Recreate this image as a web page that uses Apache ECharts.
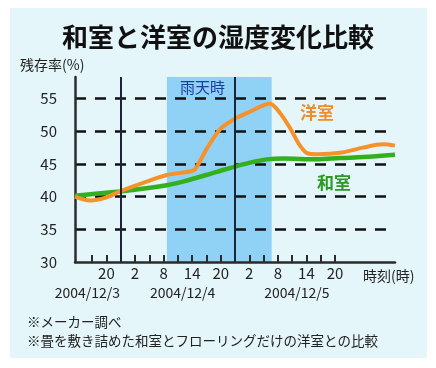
<!DOCTYPE html>
<html><head><meta charset="utf-8">
<script src="https://cdn.jsdelivr.net/npm/echarts@6/dist/echarts.min.js"></script>
<style>html,body{margin:0;padding:0;background:#fff}#c{width:436px;height:368px}</style>
</head><body><div id="c"></div>
<script>
const title = '和室と洋室の湿度変化比較';
const yAxisTitle = '残存率(%)';
const xAxisTitle = '時刻(時)';
const seriesNames = ['洋室', '和室'];
const xTickHours = [17, 20, 23, 26, 29, 32, 35, 38, 41, 44, 47, 50, 53, 56, 59, 62, 65, 68];
const xLabelHours = [20, 26, 32, 38, 44, 50, 56, 62, 68];
const dateLabelHours = [16, 36, 60];
const dateLabels = ['2004/12/3', '2004/12/4', '2004/12/5'];
const dayBoundaryHours = [23, 47];
const rainPeriod = [32.7, 54.7];
const rainLabel = '雨天時';
const notes = ['※メーカー調べ', '※畳を敷き詰めた和室とフローリングだけの洋室との比較'];

const youshitsuHours = [13.4, 16.55, 19.7, 22.85, 27.7, 32.65, 38.25, 39.2, 41.05, 43.85, 47.0, 50.15, 54.35, 56.45, 58.55, 60.65, 62.3, 64.2, 69.05, 73.9, 78.1, 80.6];
const youshitsuValues = [40.0, 39.4, 39.8, 40.8, 42.1, 43.3, 44.0, 44.85, 47.3, 50.3, 51.9, 53.0, 54.2, 52.8, 50.5, 47.8, 46.6, 46.5, 46.7, 47.5, 48.0, 47.8];
const washitsuHours = [13.4, 22.85, 29.15, 32.65, 36.1, 43.2, 47.0, 50.15, 53.65, 57.1, 64.2, 69.05, 73.9, 80.6];
const washitsuValues = [40.15, 40.8, 41.35, 41.75, 42.3, 43.8, 44.6, 45.2, 45.7, 45.85, 45.7, 45.9, 46.05, 46.4];

const FONT = '"Noto Sans CJK JP", "Noto Sans", sans-serif';
const zip = (xs, ys) => xs.map((x, i) => [x, ys[i]]);

const chart = echarts.init(document.getElementById('c'), null, {renderer: 'canvas'});
chart.setOption({
  animation: false,
  backgroundColor: '#ffffff',
  textStyle: {fontFamily: FONT},
  grid: {left: 75, right: 41, top: 77, bottom: 106},
  xAxis: [{
    type: 'value', min: 13.4, max: 80.6, z: 1.5,
    axisLine: {show: true, lineStyle: {color: '#2b2b2b', width: 2.5}},
    axisTick: {show: true, inside: true, length: 7, customValues: xTickHours, lineStyle: {color: '#2b2b2b', width: 2}},
    axisLabel: {customValues: xLabelHours, formatter: v => String(v % 24), fontSize: 15, color: '#222', margin: 4, fontFamily: FONT},
    splitLine: {show: false}
  }, {
    type: 'value', min: 13.4, max: 80.6, position: 'bottom',
    axisLine: {show: false}, axisTick: {show: false}, splitLine: {show: false},
    axisLabel: {customValues: dateLabelHours, formatter: v => dateLabels[dateLabelHours.indexOf(v)] || '', fontSize: 14, color: '#222', margin: 24, fontFamily: FONT}
  }],
  yAxis: {
    type: 'value', min: 30, max: 58.3, interval: 5, z: 1.5,
    axisLine: {show: true, lineStyle: {color: '#2b2b2b', width: 2.5}},
    axisTick: {show: false},
    axisLabel: {showMaxLabel: false, fontSize: 15, color: '#222', margin: 18, fontFamily: FONT},
    splitLine: {show: true, showMinLine: false, showMaxLine: false, lineStyle: {color: '#111', width: 2.5, type: [11, 9]}}
  },
  graphic: [
    {type: 'rect', z: -10, shape: {x: 10, y: 8, width: 417, height: 350}, style: {fill: '#e4f6fa'}},
    {type: 'text', left: 'center', top: 24, style: {text: title, font: 'bold 26px ' + FONT, fill: '#111'}},
    {type: 'text', left: 20, top: 58, style: {text: yAxisTitle, font: '14px ' + FONT, fill: '#222'}},
    {type: 'text', left: 363, top: 269, style: {text: xAxisTitle, font: '14px ' + FONT, fill: '#222'}},
    {type: 'text', left: 27, top: 315, style: {text: notes[0], font: '13.5px ' + FONT, fill: '#222'}},
    {type: 'text', left: 27, top: 334, style: {text: notes[1], font: '13.5px ' + FONT, fill: '#222'}},
    {type: 'text', left: 300, top: 104, style: {text: seriesNames[0], font: 'bold 17px ' + FONT, fill: '#f28c28'}},
    {type: 'text', left: 317, top: 174, style: {text: seriesNames[1], font: 'bold 17px ' + FONT, fill: '#2c9a22'}}
  ],
  series: [{
    type: 'line', data: [], z: 1, xAxisIndex: 0,
    markArea: {
      silent: true,
      itemStyle: {color: '#90d2f5'},
      label: {show: true, position: [13, 3], formatter: rainLabel, fontSize: 15, color: '#1c3c9e', fontFamily: FONT},
      data: [[{xAxis: rainPeriod[0]}, {xAxis: rainPeriod[1]}]]
    },
    markLine: {
      silent: true, symbol: 'none', label: {show: false},
      lineStyle: {color: '#1c2438', width: 2, type: 'solid'},
      data: dayBoundaryHours.map(h => ({xAxis: h}))
    }
  }, {
    name: seriesNames[1], type: 'line', z: 3, smooth: 0.3, showSymbol: false,
    data: zip(washitsuHours, washitsuValues),
    lineStyle: {color: '#33b01c', width: 4.5}
  }, {
    name: seriesNames[0], type: 'line', z: 4, smooth: 0.3, showSymbol: false,
    data: zip(youshitsuHours, youshitsuValues),
    lineStyle: {color: '#f5922a', width: 4}
  }]
});
</script></body></html>
